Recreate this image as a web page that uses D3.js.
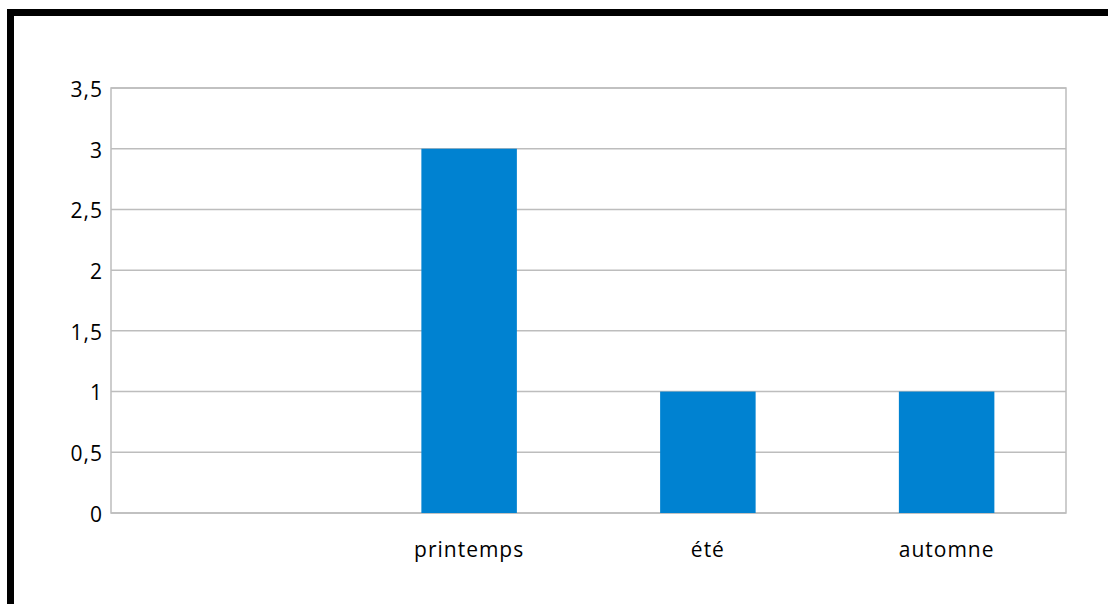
<!DOCTYPE html>
<html>
<head>
<meta charset="utf-8">
<script src="https://cdn.jsdelivr.net/npm/d3@7"></script>
<style>
  html, body { margin: 0; padding: 0; background: #fff; }
  svg { display: block; }
  text { font-family: "Open Sans", sans-serif; font-size: 21px; fill: #000; letter-spacing: 1px; }
</style>
</head>
<body>
<svg id="chart" width="1108" height="604"></svg>
<script>
// Seasons (the first slot has no label and no value)
const categories = ["", "printemps", "été", "automne"];
const values = [null, 3, 1, 1];
const yTicks = [0, 0.5, 1, 1.5, 2, 2.5, 3, 3.5];

const svg = d3.select("#chart");
const W = 1108, H = 604;
const plot = { left: 111, top: 88, right: 1066, bottom: 513 };

// Thick black frame along the top and left edges
svg.append("path")
  .attr("d", `M7,${H} V9 H${W} V16 H14 V${H} Z`)
  .attr("fill", "#000");

const x = d3.scaleBand()
  .domain(categories)
  .range([plot.left, plot.right])
  .paddingInner(0.6)
  .paddingOuter(0.3);

const xSlot = d3.scaleBand()
  .domain(categories)
  .range([plot.left, plot.right]);

const y = d3.scaleLinear()
  .domain([0, 3.5])
  .range([plot.bottom, plot.top]);

const fmt = v => String(v).replace(".", ",");

// Horizontal gridlines
svg.append("g")
  .selectAll("line")
  .data(yTicks)
  .join("line")
  .attr("x1", plot.left)
  .attr("x2", plot.right)
  .attr("y1", d => y(d))
  .attr("y2", d => y(d))
  .attr("stroke", "#bdbdbd")
  .attr("stroke-width", 1.5);

// Plot frame
svg.append("rect")
  .attr("x", plot.left)
  .attr("y", plot.top)
  .attr("width", plot.right - plot.left)
  .attr("height", plot.bottom - plot.top)
  .attr("fill", "none")
  .attr("stroke", "#bdbdbd")
  .attr("stroke-width", 1.5);

// Bars
svg.append("g")
  .selectAll("rect")
  .data(categories.map((c, i) => ({ c, v: values[i] })).filter(d => d.v != null))
  .join("rect")
  .attr("x", d => x(d.c))
  .attr("width", x.bandwidth())
  .attr("y", d => y(d.v))
  .attr("height", d => y(0) - y(d.v))
  .attr("fill", "#0082d1");

// Y axis labels
const yAxis = d3.axisLeft(y)
  .tickValues(yTicks)
  .tickFormat(fmt)
  .tickSize(0)
  .tickPadding(8);
const gy = svg.append("g")
  .attr("transform", `translate(${plot.left},0)`)
  .call(yAxis);
gy.select(".domain").remove();
gy.selectAll("text")
  .attr("font-family", null)
  .attr("font-size", null)
  .attr("dy", "0.4em");

// X axis labels
const xAxis = d3.axisBottom(xSlot)
  .tickSize(0)
  .tickPadding(0);
const gx = svg.append("g")
  .attr("transform", `translate(0,${plot.bottom})`)
  .call(xAxis);
gx.select(".domain").remove();
gx.selectAll("text")
  .attr("font-family", null)
  .attr("font-size", null)
  .attr("y", 44)
  .attr("dy", 0);
</script>
</body>
</html>
